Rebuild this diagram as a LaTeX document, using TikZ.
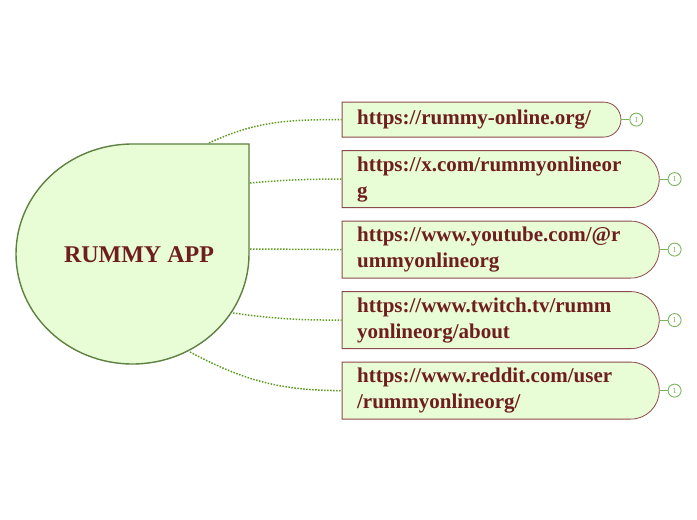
\documentclass[tikz,border=0pt]{standalone}
\usepackage{fontspec}
\setmainfont{Liberation Serif}
\usetikzlibrary{shapes.misc,positioning}
\definecolor{linkred}{HTML}{6E1E1E}
\definecolor{boxfill}{HTML}{E8FCD6}
\definecolor{boxline}{HTML}{8C4B4B}
\definecolor{dotgreen}{HTML}{5C9B1E}
\definecolor{ringgreen}{HTML}{79B45A}
\definecolor{dropline}{HTML}{5E8040}
\tikzstyle{link} = [rounded rectangle, rounded rectangle west arc=none,
    draw=boxline, fill=boxfill, text=linkred, align=left, line width=0.8pt,
    font=\fontsize{21}{26}\selectfont\bfseries, inner xsep=15pt, inner ysep=4pt]
\tikzstyle{line} = [draw=dotgreen, line width=1.5pt, dash pattern=on 1.5pt off 1.5pt]
\tikzstyle{count} = [circle, draw=ringgreen, fill=white, minimum size=13pt, line width=0.9pt,
    inner sep=0pt, text=ringgreen, font=\fontsize{8}{8}\selectfont]
\tikzstyle{stub} = [draw=ringgreen, line width=1.2pt]

\begin{document}
\begin{tikzpicture}[x=1pt, y=1pt]
    \useasboundingbox (0,0) rectangle (697,-520);
    % Central drop
    \draw [draw=dropline, fill=boxfill, line width=1.4pt] (249,-144) -- (249,-254)
        arc [start angle=0, end angle=-270, x radius=116.5, y radius=110] -- cycle;
    \node [text=linkred, font=\fontsize{24}{24}\selectfont\bfseries] (app) at (139,-255) {RUMMY APP};
    \coordinate (s1) at (209,-143);
    \coordinate (s2) at (250,-183);
    \coordinate (s3) at (250,-249);
    \coordinate (s4) at (233,-313);
    \coordinate (s5) at (190,-352);
    % Place nodes
    \node [link, minimum height=35pt, text width=246pt, anchor=north west] (site) at (341.7,-101.7) {https://rummy-online.org/};
    \node [link, minimum height=57pt, text width=276pt, below=12.7pt of site.south west, anchor=north west] (xcom) {https://x.com/rummyonlineor\\g};
    \node [link, minimum height=57pt, text width=276pt, below=12.7pt of xcom.south west, anchor=north west] (youtube) {https://www.youtube.com/@r\\ummyonlineorg};
    \node [link, minimum height=57pt, text width=276pt, below=12.7pt of youtube.south west, anchor=north west] (twitch) {https://www.twitch.tv/rumm\\yonlineorg/about};
    \node [link, minimum height=57pt, text width=276pt, below=12.7pt of twitch.south west, anchor=north west] (reddit) {https://www.reddit.com/user\\/rummyonlineorg/};
    \node [count, right=8pt of site] (c1) {1};
    \node [count, right=8pt of xcom] (c2) {1};
    \node [count, right=8pt of youtube] (c3) {1};
    \node [count, right=8pt of twitch] (c4) {1};
    \node [count, right=8pt of reddit] (c5) {1};
    % Draw edges
    \path [line] (s1) to [out=25, in=180] (site.west);
    \path [line] (s2) to [out=5, in=180] (xcom.west);
    \path [line] (s3) -- (youtube.west);
    \path [line] (s4) to [out=-8, in=180] (twitch.west);
    \path [line] (s5) to [out=-28, in=180] (reddit.west);
    \path [stub] (site.east) -- (c1);
    \path [stub] (xcom.east) -- (c2);
    \path [stub] (youtube.east) -- (c3);
    \path [stub] (twitch.east) -- (c4);
    \path [stub] (reddit.east) -- (c5);
\end{tikzpicture}
\end{document}
